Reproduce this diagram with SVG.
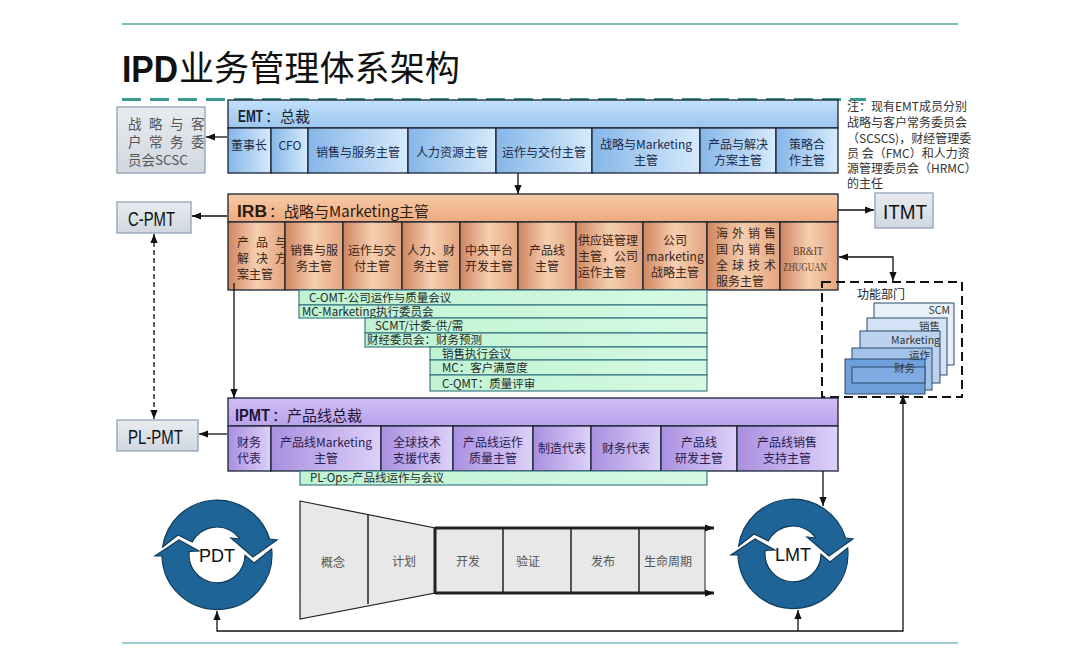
<svg xmlns="http://www.w3.org/2000/svg" width="1080" height="649" viewBox="0 0 1080 649">
<style>
.cjk{font-family:"Noto Sans CJK SC","Noto Sans",sans-serif;}
.lat{font-family:"Liberation Sans",Arial,sans-serif;}
.cell{font-family:"Noto Sans CJK SC","Noto Sans",sans-serif;font-size:12px;text-anchor:middle;}
.cl{text-anchor:start;}
.box{stroke:#1b2433;stroke-width:1.3;}
.emtc{fill:url(#gEmtC);}
.irbc{fill:url(#gIrbC);}
.ipmc{fill:url(#gIpmC);}
.et{fill:#1a2b4a;}
.it{fill:#3b2418;}
.pt{fill:#2b2050;}
.gbar{fill:url(#gGreen);stroke:#2f6f7f;stroke-width:1.1;}
.gt{font-family:"Noto Sans CJK SC","Noto Sans",sans-serif;font-size:11.5px;fill:#1f2a2a;}
.gray{fill:url(#gGray);stroke:#8a9bb0;stroke-width:1.2;}
.con{fill:none;stroke:#111;stroke-width:1.3;}
.card{stroke:#2a4a6a;stroke-width:1;}
.ct{font-family:"Noto Sans CJK SC","Noto Sans",sans-serif;font-size:10.5px;fill:#333;text-anchor:end;}
.ft{font-family:"Noto Sans CJK SC","Noto Sans",sans-serif;font-size:12px;fill:#555;text-anchor:middle;}
.ring{fill:#1f6496;stroke:#0d3b5c;stroke-width:1.2;}
.note{font-family:"Noto Sans CJK SC","Noto Sans",sans-serif;font-size:12px;fill:#333;}
.sc{font-family:"Noto Sans CJK SC","Noto Sans",sans-serif;font-size:13.5px;fill:#555;}
</style>
<defs>
<linearGradient id="gEmtH" x1="0" y1="0" x2="0" y2="1"><stop offset="0" stop-color="#c2e0fa"/><stop offset="1" stop-color="#9cc6ee"/></linearGradient>
<linearGradient id="gEmtC" x1="0" y1="0" x2="1" y2="0"><stop offset="0" stop-color="#86b6e8"/><stop offset="1" stop-color="#d6eafc"/></linearGradient>
<linearGradient id="gIrbH" x1="0" y1="0" x2="0" y2="1"><stop offset="0" stop-color="#f8cba8"/><stop offset="1" stop-color="#eda97e"/></linearGradient>
<linearGradient id="gIrbC" x1="0" y1="0" x2="1" y2="0"><stop offset="0" stop-color="#cf8560"/><stop offset="0.5" stop-color="#f6cfb0"/><stop offset="1" stop-color="#e3a47e"/></linearGradient>
<linearGradient id="gIpmH" x1="0" y1="0" x2="0" y2="1"><stop offset="0" stop-color="#d0bdf5"/><stop offset="1" stop-color="#b9a2ea"/></linearGradient>
<linearGradient id="gIpmC" x1="0" y1="0" x2="1" y2="0"><stop offset="0" stop-color="#a98fe0"/><stop offset="1" stop-color="#ddd1f8"/></linearGradient>
<linearGradient id="gGreen" x1="0" y1="0" x2="1" y2="0"><stop offset="0" stop-color="#bff3d2"/><stop offset="1" stop-color="#d5f9e3"/></linearGradient>
<linearGradient id="gGray" x1="0" y1="0" x2="0" y2="1"><stop offset="0" stop-color="#e8ecf0"/><stop offset="1" stop-color="#d0d7df"/></linearGradient>
<marker id="ah" viewBox="0 0 10 10" refX="10" refY="5" markerWidth="9" markerHeight="9" markerUnits="userSpaceOnUse" orient="auto-start-reverse"><path d="M0,1 L10,5 L0,9 Z" fill="#111"/></marker>
<g id="cycle">
<path class="ring" d="M-54.4,-8 A55,55 0 0 1 52.6,-16 L60,-15 L36,2 L14,-17 L23,-16 A28,28 0 0 0 -24.8,-13 L-39,-20 Z"/>
<path class="ring" d="M54.7,-6 A55,55 0 1 1 -55,1 L-62,1 L-38,-15 L-18,-4 L-27.8,-3.5 A28,28 0 1 0 28,0.3 L37,8 Z"/>
</g>
</defs>

<rect width="1080" height="649" fill="#fff"/>

<g id="frame">
<line x1="122" y1="24" x2="958" y2="24" stroke="#5aa8a0" stroke-width="1.5"/>
<line x1="122" y1="643" x2="958" y2="643" stroke="#7ab8c0" stroke-width="1.5"/>
<line x1="122" y1="99.5" x2="866" y2="99.5" stroke="#3a9a90" stroke-width="3" stroke-dasharray="19 9"/>
</g>

<g id="title">
<text x="122" y="82" class="lat" font-size="37" font-weight="bold" fill="#111" textLength="56" lengthAdjust="spacingAndGlyphs">IPD</text>
<text x="179" y="81" class="cjk" font-size="35" fill="#111" textLength="281" lengthAdjust="spacingAndGlyphs">业务管理体系架构</text>
</g>

<g id="scsc">
<rect class="gray" x="117" y="107" width="88" height="66"/>
<text class="sc" x="128" y="129" letter-spacing="7.5">战略与客</text>
<text class="sc" x="128" y="147" letter-spacing="7.5">户常务委</text>
<text class="sc" x="128" y="165">员会SCSC</text>
</g>

<g id="note">
<text class="note" x="847" y="111">注：现有EMT成员分别</text>
<text class="note" x="847" y="127">战略与客户常务委员会</text>
<text class="note" x="847" y="143">（SCSCS)，财经管理委</text>
<text class="note" x="847" y="158">员 会（FMC）和人力资</text>
<text class="note" x="847" y="173">源管理委员会（HRMC）</text>
<text class="note" x="847" y="188">的主任</text>
</g>

<g id="emt">
<rect class="box" x="228" y="100" width="610" height="28" fill="url(#gEmtH)"/>
<text transform="translate(238,122) scale(0.74,1)" class="lat" font-size="16" font-weight="bold" fill="#1a2233">EMT</text>
<text x="265" y="122" class="cjk" font-size="15" fill="#1a2233">：总裁</text>
<rect class="box emtc" x="228" y="128" width="43" height="45"/>
<rect class="box emtc" x="271" y="128" width="37" height="45"/>
<rect class="box emtc" x="308" y="128" width="100" height="45"/>
<rect class="box emtc" x="408" y="128" width="88" height="45"/>
<rect class="box emtc" x="496" y="128" width="96" height="45"/>
<rect class="box emtc" x="592" y="128" width="108" height="45"/>
<rect class="box emtc" x="700" y="128" width="76" height="45"/>
<rect class="box emtc" x="776" y="128" width="62" height="45"/>
<text class="cell et" x="249" y="150">董事长</text>
<text class="cell et" x="290" y="150">CFO</text>
<text class="cell et" x="358" y="157">销售与服务主管</text>
<text class="cell et" x="452" y="157">人力资源主管</text>
<text class="cell et" x="544" y="157">运作与交付主管</text>
<text class="cell et" x="646" y="149">战略与Marketing</text>
<text class="cell et" x="646" y="165">主管</text>
<text class="cell et" x="738" y="149">产品与解决</text>
<text class="cell et" x="738" y="165">方案主管</text>
<text class="cell et" x="807" y="149">策略合</text>
<text class="cell et" x="807" y="165">作主管</text>
</g>

<g id="irb">
<rect class="box" x="228" y="194" width="610" height="28" fill="url(#gIrbH)"/>
<text x="237" y="217" class="lat" font-size="16" font-weight="bold" fill="#2a1a10" textLength="30" lengthAdjust="spacingAndGlyphs">IRB</text>
<text x="269" y="217" class="cjk" font-size="15" fill="#2a1a10">：战略与Marketing主管</text>
<rect class="box irbc" x="228" y="222" width="57" height="68"/>
<rect class="box irbc" x="285" y="222" width="58" height="68"/>
<rect class="box irbc" x="343" y="222" width="59" height="68"/>
<rect class="box irbc" x="402" y="222" width="58" height="68"/>
<rect class="box irbc" x="460" y="222" width="58" height="68"/>
<rect class="box irbc" x="518" y="222" width="58" height="68"/>
<rect class="box irbc" x="576" y="222" width="67" height="68"/>
<rect class="box irbc" x="643" y="222" width="64" height="68"/>
<rect class="box irbc" x="707" y="222" width="73" height="68"/>
<rect class="box irbc" x="780" y="222" width="58" height="68"/>
<text class="cell cl it" x="237" y="247" letter-spacing="7">产品与</text>
<text class="cell cl it" x="237" y="263" letter-spacing="7">解决方</text>
<text class="cell cl it" x="237" y="279">案主管</text>
<text class="cell it" x="314" y="255">销售与服</text>
<text class="cell it" x="314" y="271">务主管</text>
<text class="cell it" x="372" y="255">运作与交</text>
<text class="cell it" x="372" y="271">付主管</text>
<text class="cell it" x="431" y="255">人力、财</text>
<text class="cell it" x="431" y="271">务主管</text>
<text class="cell it" x="489" y="255">中央平台</text>
<text class="cell it" x="489" y="271">开发主管</text>
<text class="cell it" x="547" y="255">产品线</text>
<text class="cell it" x="547" y="271">主管</text>
<text class="cell cl it" x="578" y="245">供应链管理</text>
<text class="cell cl it" x="578" y="261">主管，公司</text>
<text class="cell cl it" x="578" y="277">运作主管</text>
<text class="cell it" x="675" y="245">公司</text>
<text class="cell it" x="675" y="261">marketing</text>
<text class="cell it" x="675" y="277">战略主管</text>
<text class="cell cl it" x="716" y="238" letter-spacing="4">海外销售</text>
<text class="cell cl it" x="716" y="254" letter-spacing="4">国内销售</text>
<text class="cell cl it" x="716" y="270" letter-spacing="4">全球技术</text>
<text class="cell cl it" x="716" y="286">服务主管</text>
<text x="793" y="255" font-family="Liberation Serif,serif" font-size="13" fill="#5a3828" textLength="30" lengthAdjust="spacingAndGlyphs">BR&amp;IT</text>
<text x="783" y="271" font-family="Liberation Serif,serif" font-size="13" fill="#5a3828" textLength="44" lengthAdjust="spacingAndGlyphs">ZHUGUAN</text>
</g>

<g id="itmt">
<rect class="gray" x="875" y="193" width="58" height="35"/>
<text x="883" y="219" class="lat" font-size="20" fill="#111" textLength="44" lengthAdjust="spacingAndGlyphs">ITMT</text>
</g>

<g id="cpmt">
<rect class="gray" x="117" y="202" width="74" height="31"/>
<text x="128" y="226" class="lat" font-size="20" fill="#111" textLength="47" lengthAdjust="spacingAndGlyphs">C-PMT</text>
</g>

<g id="plpmt">
<rect class="gray" x="117" y="420" width="81" height="31"/>
<text x="128" y="444" class="lat" font-size="20" fill="#111" textLength="55" lengthAdjust="spacingAndGlyphs">PL-PMT</text>
</g>

<g id="meetings">
<rect class="gbar" x="299" y="290" width="408" height="15"/>
<text class="gt" x="309" y="302">C-OMT-公司运作与质量会议</text>
<rect class="gbar" x="299" y="305" width="408" height="13"/>
<text class="gt" x="302" y="316">MC-Marketing执行委员会</text>
<rect class="gbar" x="365" y="318" width="342" height="15"/>
<text class="gt" x="375" y="330">SCMT/计委-供/需</text>
<rect class="gbar" x="365" y="333" width="342" height="14"/>
<text class="gt" x="367" y="344">财经委员会：财务预测</text>
<rect class="gbar" x="430" y="347" width="277" height="13"/>
<text class="gt" x="442" y="357.5">销售执行会议</text>
<rect class="gbar" x="430" y="360" width="277" height="15"/>
<text class="gt" x="442" y="372">MC：客户满意度</text>
<rect class="gbar" x="430" y="375" width="277" height="16"/>
<text class="gt" x="442" y="387.5">C-QMT：质量评审</text>
</g>

<g id="func">
<rect x="822" y="282" width="140" height="115" fill="none" stroke="#111" stroke-width="2" stroke-dasharray="9 5"/>
<text class="cjk" x="857" y="299" font-size="12" fill="#222">功能部门</text>
<rect class="card" x="874" y="303" width="80" height="62" fill="#e8f0fa"/>
<rect class="card" x="867" y="318" width="80" height="57" fill="#d4e2f5"/>
<rect class="card" x="860" y="331" width="80" height="52" fill="#bcd2ef"/>
<rect class="card" x="852" y="348" width="80" height="42" fill="#a5c3ea"/>
<rect class="card" x="845" y="359" width="80" height="35" fill="#6fa0dc"/>
<rect x="852" y="367" width="73" height="16" fill="#7eace2" stroke="#2a4a6a" stroke-width="1"/>
<text class="ct" x="950" y="314">SCM</text>
<text class="ct" x="940" y="329.5">销售</text>
<text class="ct" x="940" y="343.5">Marketing</text>
<text class="ct" x="930" y="358.5">运作</text>
<text class="ct" x="915" y="372">财务</text>
</g>

<g id="ipmt">
<rect class="box" x="228" y="398" width="610" height="28" fill="url(#gIpmH)"/>
<text x="235" y="421" class="lat" font-size="16" font-weight="bold" fill="#1e1438" textLength="35" lengthAdjust="spacingAndGlyphs">IPMT</text>
<text x="272" y="421" class="cjk" font-size="15" fill="#1e1438">：产品线总裁</text>
<rect class="box ipmc" x="228" y="426" width="43" height="45"/>
<rect class="box ipmc" x="271" y="426" width="110" height="45"/>
<rect class="box ipmc" x="381" y="426" width="72" height="45"/>
<rect class="box ipmc" x="453" y="426" width="80" height="45"/>
<rect class="box ipmc" x="533" y="426" width="58" height="45"/>
<rect class="box ipmc" x="591" y="426" width="70" height="45"/>
<rect class="box ipmc" x="661" y="426" width="76" height="45"/>
<rect class="box ipmc" x="737" y="426" width="101" height="45"/>
<text class="cell pt" x="249" y="447">财务</text>
<text class="cell pt" x="249" y="463">代表</text>
<text class="cell pt" x="326" y="447">产品线Marketing</text>
<text class="cell pt" x="326" y="463">主管</text>
<text class="cell pt" x="417" y="447">全球技术</text>
<text class="cell pt" x="417" y="463">支援代表</text>
<text class="cell pt" x="493" y="447">产品线运作</text>
<text class="cell pt" x="493" y="463">质量主管</text>
<text class="cell pt" x="562" y="453">制造代表</text>
<text class="cell pt" x="626" y="453">财务代表</text>
<text class="cell pt" x="699" y="447">产品线</text>
<text class="cell pt" x="699" y="463">研发主管</text>
<text class="cell pt" x="787" y="447">产品线销售</text>
<text class="cell pt" x="787" y="463">支持主管</text>
</g>

<g id="plops">
<rect class="gbar" x="300" y="471" width="407" height="14"/>
<text class="gt" x="310" y="482">PL-Ops-产品线运作与会议</text>
</g>

<g id="pdt">
<use href="#cycle" x="217" y="555"/>
<text x="217" y="562" class="lat" font-size="18" fill="#111" text-anchor="middle">PDT</text>
</g>

<g id="lmt">
<use href="#cycle" x="793" y="554"/>
<text x="793" y="561" class="lat" font-size="18" fill="#111" text-anchor="middle">LMT</text>
</g>

<g id="funnel">
<polygon points="300,501 435,528 435,593 300,619" fill="#e8e8e8" stroke="#222" stroke-width="1.2"/>
<line x1="368" y1="514.6" x2="368" y2="604" stroke="#222" stroke-width="1.5"/>
<rect x="435" y="528" width="270" height="65" fill="#e8e8e8" stroke="#222" stroke-width="1"/>
<line x1="503" y1="528" x2="503" y2="593" stroke="#222" stroke-width="1.5"/>
<line x1="571" y1="528" x2="571" y2="593" stroke="#222" stroke-width="1.5"/>
<line x1="639" y1="528" x2="639" y2="593" stroke="#222" stroke-width="1.5"/>
<line x1="435" y1="527" x2="435" y2="594" stroke="#222" stroke-width="3"/>
<path d="M435,528 H714" fill="none" stroke="#222" stroke-width="3" marker-end="url(#ah)"/>
<path d="M435,593 H714" fill="none" stroke="#222" stroke-width="3" marker-end="url(#ah)"/>
<text class="ft" x="333" y="567">概念</text>
<text class="ft" x="404" y="566">计划</text>
<text class="ft" x="468" y="566">开发</text>
<text class="ft" x="528" y="566">验证</text>
<text class="ft" x="603" y="566">发布</text>
<text class="ft" x="668" y="566">生命周期</text>
</g>

<g id="connectors">
<path class="con" d="M227,137 H206" marker-end="url(#ah)"/>
<path class="con" d="M518,173 V194" marker-end="url(#ah)"/>
<path class="con" d="M227,216 H192" marker-end="url(#ah)"/>
<path class="con" d="M838,210 H874" marker-end="url(#ah)"/>
<path class="con" d="M234,283 V398" marker-end="url(#ah)"/>
<path class="con" d="M154,234 V419" stroke-dasharray="5 3" marker-start="url(#ah)" marker-end="url(#ah)"/>
<path class="con" d="M227,434 H199" marker-end="url(#ah)"/>
<path class="con" d="M839,257 H893 V281" marker-start="url(#ah)" marker-end="url(#ah)"/>
<path class="con" d="M823,471 V506" marker-end="url(#ah)"/>
<path class="con" d="M903,395 V631 H217 V611" marker-start="url(#ah)" marker-end="url(#ah)"/>
<path class="con" d="M798,631 V610" marker-end="url(#ah)"/>
</g>
</svg>
